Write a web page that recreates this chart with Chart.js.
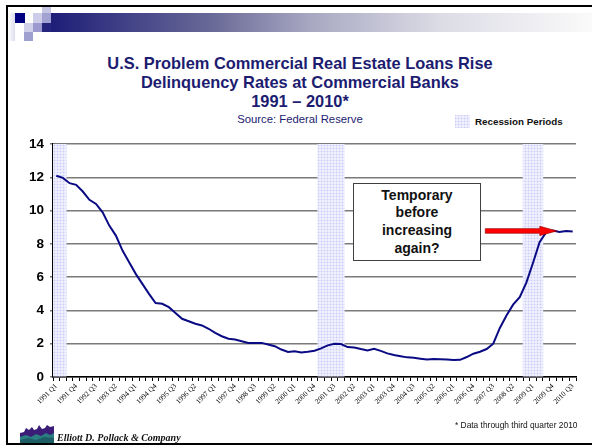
<!DOCTYPE html>
<html>
<head>
<meta charset="utf-8">
<script src="https://cdn.jsdelivr.net/npm/chart.js@4.4.0/dist/chart.umd.min.js"></script>
<style>
  html, body { margin: 0; padding: 0; background: #fff; }
  #page { position: relative; width: 592px; height: 447px; overflow: hidden; font-family: "Liberation Sans", Arial, sans-serif; }
  .abs { position: absolute; }
  .title { left: 100px; width: 400px; text-align: center; color: #1c1c70; font-weight: bold; font-size: 16.4px; line-height: 19px; white-space: nowrap; }
  #chartBox { position: absolute; left: 0; top: 130px; width: 592px; height: 312px; }
  #note { left: 353px; top: 183px; width: 126px; height: 76px; border: 1px solid #404040; background: #fff;
          display: flex; align-items: center; justify-content: center; text-align: center;
          font-weight: bold; font-size: 14px; line-height: 17.7px; color: #111; }
</style>
</head>
<body>
<div id="page">
  <!-- slide frame + header decoration -->
  <div class="abs" style="left:7px;top:5px;width:585px;height:2px;background:#000"></div>
  <div class="abs" style="left:6px;top:5px;width:2px;height:440px;background:#000"></div>
  <div class="abs" style="left:6px;top:443px;width:586px;height:2px;background:#000"></div>
  <div class="abs" style="left:8px;top:13px;width:7px;height:28px;background:linear-gradient(to right,#fff,#dcdcef)"></div>
  <div class="abs" style="left:51px;top:13px;width:541px;height:19px;background:linear-gradient(to right,#1e1e78 0%,#6a6a98 30%,#a8a8c2 48%,#dcdce6 72%,#fafafa 100%)"></div>
  <div class="abs" style="left:42px;top:23px;width:9px;height:9px;background:#24247c"></div>
  <div class="abs" style="left:15px;top:13px;width:10px;height:10px;background:#000080"></div>
  <div class="abs" style="left:33px;top:13px;width:9px;height:10px;background:#cdcdea"></div>
  <div class="abs" style="left:42px;top:7px;width:9px;height:6px;background:#c6c6e4"></div>
  <div class="abs" style="left:42px;top:13px;width:9px;height:10px;background:#a2a2d2"></div>
  <div class="abs" style="left:24px;top:23px;width:9px;height:9px;background:#d0d0ea"></div>
  <div class="abs" style="left:33px;top:23px;width:9px;height:9px;background:#9a9ace"></div>
  <div class="abs" style="left:24px;top:32px;width:9px;height:9px;background:#a0a0d0"></div>

  <div class="abs title" style="top:54px">U.S. Problem Commercial Real Estate Loans Rise</div>
  <div class="abs title" style="top:73px">Delinquency Rates at Commercial Banks</div>
  <div class="abs title" style="top:92px">1991 – 2010*</div>
  <div class="abs title" style="top:112px;font-weight:normal;font-size:11.3px;line-height:14px;color:#1c1c70">Source: Federal Reserve</div>

  <canvas id="legendBox" class="abs" width="15" height="13" style="left:455px;top:115px"></canvas>
  <div class="abs" style="left:475px;top:116px;font-weight:bold;font-size:9.8px;line-height:12px;color:#111">Recession Periods</div>

  <div id="chartBox"><canvas id="myChart"></canvas></div>

  <div id="note" class="abs">Temporary<br>before<br>increasing<br>again?</div>

  <div class="abs" style="left:455px;top:420px;font-size:8.4px;line-height:10px;color:#111">* Data through third quarter 2010</div>

  <svg class="abs" style="left:20px;top:424px" width="34" height="19" viewBox="0 0 34 19">
    <path d="M0 19 L0 9 L4 8 L6 4 L9 6 L12 3 L14 6 L17 5 L19 1 L22 5 L25 4 L27 1 L30 3 L34 2 L34 19 Z" fill="#3b1d78"/>
    <path d="M0 19 L0 13 L6 11 L11 13 L16 10 L21 12 L26 9 L30 11 L34 9 L34 19 Z" fill="#2a7d80"/>
    <path d="M0 19 L0 16 L8 14 L16 16 L24 13 L34 14 L34 19 Z" fill="#1d5e66"/>
  </svg>
  <div class="abs" style="left:57px;top:432px;font-family:'Liberation Serif','Times New Roman',serif;font-style:italic;font-weight:bold;font-size:10px;line-height:12px;color:#111">Elliott D. Pollack &amp; Company</div>
</div>

<script>
// quarterly delinquency rate, 1991 Q1 .. 2010 Q3 (percent)
const years = [1991, 1992, 1993, 1994, 1995, 1996, 1997, 1998, 1999, 2000,
               2001, 2002, 2003, 2004, 2005, 2006, 2007, 2008, 2009, 2010];
const delinquency = [
  12.1, 11.97, 11.65, 11.55, 11.15, 10.65, 10.4, 9.9, 9.1, 8.5,
  7.6, 6.9, 6.2, 5.6, 5.0, 4.45, 4.4, 4.2, 3.85, 3.5,
  3.35, 3.2, 3.1, 2.9, 2.65, 2.45, 2.3, 2.25, 2.15, 2.05,
  2.05, 2.05, 1.95, 1.85, 1.65, 1.5, 1.55, 1.48, 1.52, 1.58,
  1.72, 1.9, 2.0, 1.98, 1.8, 1.77, 1.68, 1.6, 1.7, 1.57,
  1.42, 1.32, 1.25, 1.18, 1.15, 1.1, 1.05, 1.08, 1.07, 1.05,
  1.02, 1.03, 1.2, 1.4, 1.52, 1.68, 2.0, 2.95, 3.7, 4.35,
  4.8, 5.67, 6.85, 8.1, 8.7, 8.8, 8.72, 8.78, 8.75
];
const recessionQuarters = ['1991 Q1', '1991 Q2',
                           '2001 Q1', '2001 Q2', '2001 Q3', '2001 Q4',
                           '2008 Q4', '2009 Q1', '2009 Q2'];
const yTicks = [0, 2, 4, 6, 8, 10, 12, 14];

let quarters = [];
years.forEach(y => {
    ['Q1', 'Q2', 'Q3', 'Q4'].forEach(q => quarters.push(y + ' ' + q));
});
quarters = quarters.slice(0, delinquency.length);

(function(){
    // dotted lavender fill used for the recession bands
    function makePattern(ctx){
        const p = document.createElement('canvas');
        p.width = 3; p.height = 3;
        const pc = p.getContext('2d');
        pc.fillStyle = '#e4e4fc';
        pc.fillRect(0, 0, 3, 3);
        pc.fillStyle = '#cacaf6';
        pc.fillRect(0, 0, 1, 1);
        pc.fillStyle = '#efeffe';
        pc.fillRect(1, 1, 2, 2);
        return ctx.createPattern(p, 'repeat');
    }

    const lg = document.getElementById('legendBox').getContext('2d');
    lg.fillStyle = makePattern(lg);
    lg.fillRect(0, 0, 15, 13);

    const ctx = document.getElementById('myChart').getContext('2d');
    const bandFill = makePattern(ctx);
    const bands = quarters.map(q => recessionQuarters.includes(q) ? 14 : null);

    // red "temporary?" arrow
    const arrowPlugin = {
        id: 'arrow',
        afterDatasetsDraw(chart){
            const x = chart.scales.x, y = chart.scales.y;
            const x1 = x.getPixelForValue(64.8), x2 = x.getPixelForValue(75.6);
            const yy = y.getPixelForValue(8.78);
            const c = chart.ctx;
            c.save();
            c.beginPath();
            c.moveTo(x1, yy - 2.3);
            c.lineTo(x2 - 17, yy - 2.3);
            c.lineTo(x2 - 17, yy - 4.6);
            c.lineTo(x2, yy);
            c.lineTo(x2 - 17, yy + 4.6);
            c.lineTo(x2 - 17, yy + 2.3);
            c.lineTo(x1, yy + 2.3);
            c.closePath();
            c.fillStyle = '#ff0000';
            c.fill();
            c.strokeStyle = '#a00000';
            c.lineWidth = 0.7;
            c.stroke();
            c.restore();
        }
    };

    new Chart(ctx, {
        type: 'line',
        data: {
            labels: quarters,
            datasets: [{
                label: 'Delinquency rate',
                data: delinquency,
                borderColor: '#0a0a84',
                borderWidth: 2,
                pointRadius: 0,
                fill: false,
                tension: 0
            }, {
                type: 'bar',
                label: 'Recession Periods',
                data: bands,
                backgroundColor: bandFill,
                borderWidth: 0,
                barPercentage: 1,
                categoryPercentage: 1
            }]
        },
        options: {
            responsive: true,
            maintainAspectRatio: false,
            animation: false,
            layout: { padding: { top: 11, right: 16, left: 0, bottom: 0 } },
            plugins: {
                legend: { display: false },
                tooltip: { enabled: false }
            },
            scales: {
                x: {
                    offset: true,
                    afterFit: s => { s.height = 65; },
                    border: { color: '#000', width: 1.5 },
                    grid: { drawOnChartArea: false, offset: true, tickLength: 4, color: '#000', lineWidth: 1 },
                    ticks: {
                        autoSkip: false,
                        maxRotation: 45,
                        minRotation: 45,
                        padding: 1,
                        color: '#000',
                        font: { family: 'Liberation Serif', size: 7.3 },
                        callback: (v, i) => i % 3 === 0 ? quarters[i] : ''
                    }
                },
                y: {
                    min: 0,
                    max: 14,
                    afterFit: s => { s.width = 53; },
                    afterBuildTicks: s => { s.ticks = yTicks.map(v => ({ value: v })); },
                    border: { color: '#000', width: 1.5 },
                    grid: { color: '#7a7a7a', lineWidth: 1.5, tickLength: 3 },
                    ticks: {
                        padding: 6,
                        color: '#000',
                        font: { family: 'Liberation Sans', size: 13.5, weight: 'bold' }
                    }
                }
            }
        },
        plugins: [arrowPlugin]
    });
})();
</script>
</body>
</html>
